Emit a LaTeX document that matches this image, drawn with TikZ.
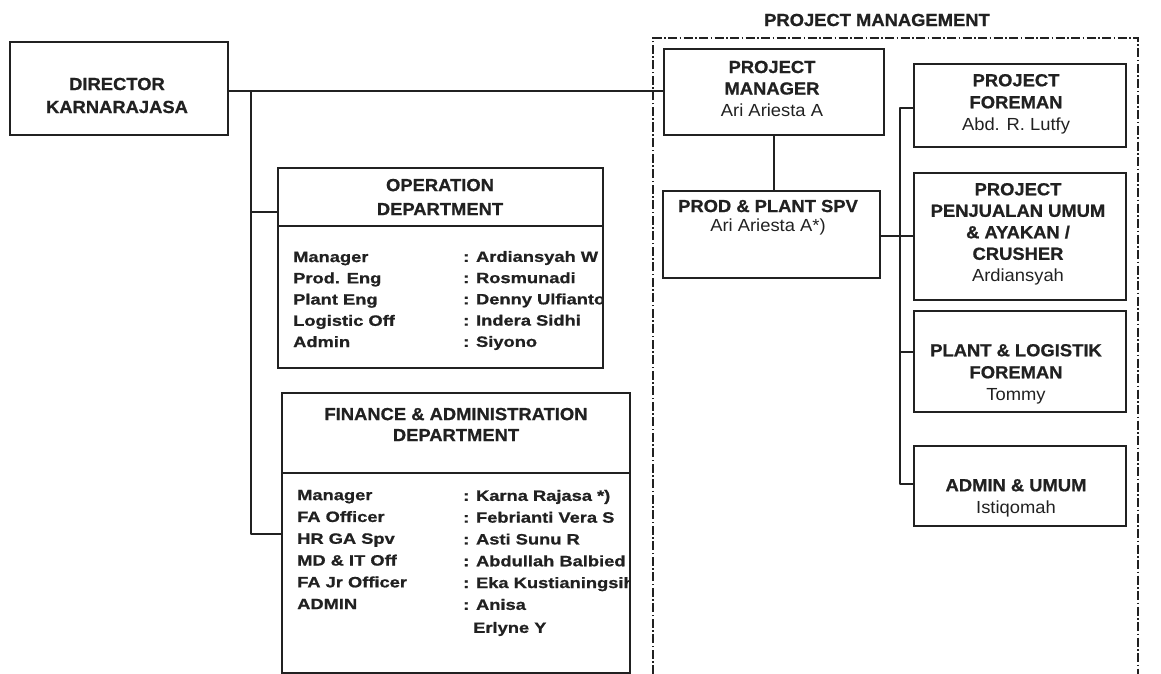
\documentclass[tikz,border=0pt]{standalone}
\usepackage{fontspec}
\setmainfont{Liberation Sans}
\newfontfamily\hdfont{Liberation Sans}[FakeStretch=1.05, BoldFeatures={FakeBold=0.9}]
\newfontfamily\bdfont{Liberation Sans}[FakeStretch=1.22, BoldFeatures={FakeBold=0.9}]
\definecolor{ink}{gray}{0.13}
\begin{document}
\begin{tikzpicture}[x=1pt,y=-1pt,
  box/.style={draw=ink, line width=1.9pt, rectangle, inner sep=0pt},
  conn/.style={draw=ink, line width=1.9pt, line join=round},
  frameline/.style={draw=ink, line width=1.4pt, dash pattern=on 9pt off 2.5pt on 1.5pt off 2.5pt},
  hdr/.style={text=ink, inner sep=0pt, align=center, font=\hdfont\bfseries\fontsize{17.5}{#1}\selectfont},
  hdr/.default=21.5,
  body/.style={text=ink, inner sep=0pt, align=left, anchor=west, font=\bdfont\bfseries\fontsize{15}{#1}\selectfont},
  body/.default=21.5]
\useasboundingbox (0,0) rectangle (1161,674);

% boxes
\node[box, minimum width=218, minimum height=93] (dir) at (119,88.5) {};
\node[box, minimum width=325, minimum height=200] (op) at (440.5,268) {};
\node[box, minimum width=348, minimum height=280] (fin) at (456,533) {};
\node[box, minimum width=220, minimum height=86] (pm) at (774,92) {};
\node[box, minimum width=217, minimum height=87] (prod) at (771.5,234.5) {};
\node[box, minimum width=212, minimum height=83] (fm) at (1020,105.5) {};
\node[box, minimum width=212, minimum height=127] (pj) at (1020,236.5) {};
\node[box, minimum width=212, minimum height=101] (pl) at (1020,361.5) {};
\node[box, minimum width=212, minimum height=80] (ad) at (1020,486) {};

% dividers
\draw[conn] ([yshift=-59pt]op.north west) -- ([yshift=-59pt]op.north east);
\draw[conn] ([yshift=-81pt]fin.north west) -- ([yshift=-81pt]fin.north east);

% project management frame
\draw[frameline] (653,674) -- (653,38) -- (1138,38) -- (1138,674);
\node[hdr] (pmtitle) at (877,20) {PROJECT MANAGEMENT};

% titles
\node[hdr=23] (dirT) at (117,95.5) {DIRECTOR\\KARNARAJASA};
\node[hdr=24] (opH) at (440,197) {OPERATION\\DEPARTMENT};
\node[hdr=21] (finH) at (456,424.5) {FINANCE \& ADMINISTRATION\\DEPARTMENT};
\node[hdr] (pmT) at (772,88.5) {PROJECT\\MANAGER\\{\mdseries Ari Ariesta A}};
\node[hdr=19.5] (prodT) at (768,217.5) {PROD \& PLANT SPV\\{\mdseries Ari Ariesta A*)}};
\node[hdr=22] (fmT) at (1016,104) {PROJECT\\FOREMAN\\{\mdseries Abd. R. Lutfy}};
\node[hdr] (pjT) at (1018,234) {PROJECT\\PENJUALAN UMUM\\\& AYAKAN /\\CRUSHER\\{\mdseries Ardiansyah}};
\node[hdr=22] (plT) at (1016,374) {PLANT \& LOGISTIK\\FOREMAN\\{\mdseries Tommy}};
\node[hdr=22] (adT) at (1016,498) {ADMIN \& UMUM\\{\mdseries Istiqomah}};

% operation department list
\begin{scope}
\clip (op.north west) rectangle (op.south east);
\node[body=21.25] (opL) at (293,299.5) {Manager\\Prod. Eng\\Plant Eng\\Logistic Off\\Admin};
\node[body=21.25] (opR) at (463,300.5) {: Ardiansyah W\\: Rosmunadi\\: Denny Ulfianto\\: Indera Sidhi\\: Siyono};
\end{scope}

% finance department list
\begin{scope}
\clip (fin.north west) rectangle (fin.south east);
\node[body=21.8] (finL) at (297,549.5) {Manager\\FA Officer\\HR GA Spv\\MD \& IT Off\\FA Jr Officer\\ADMIN};
\node[body=21.8] (finR) at (463,550) {: Karna Rajasa *)\\: Febrianti Vera S\\: Asti Sunu R\\: Abdullah Balbied\\: Eka Kustianingsih\\: Anisa};
\node[body] (finE) at (473,629) {Erlyne Y};
\end{scope}

% connectors, left side
\coordinate (yMain) at (0,91);
\coordinate (jl) at (251,91);
\coordinate (yOp) at (0,212);
\coordinate (yFin) at (0,534);
\draw[conn] (dir.east |- yMain) -- (pm.west |- yMain);
\draw[conn] (jl) -- (jl |- yFin) -- (fin.west |- yFin);
\draw[conn] (jl |- yOp) -- (op.west |- yOp);

% connectors, project side
\draw[conn] (pm.south) -- (pm.south |- prod.north);
\coordinate (yProd) at (0,236);
\coordinate (bt) at (900,108);
\coordinate (bb) at (900,484);
\coordinate (yPl) at (0,352);
\draw[conn] (prod.east |- yProd) -- (pj.west |- yProd);
\draw[conn] (fm.west |- bt) -- (bt) -- (bb) -- (ad.west |- bb);
\draw[conn] (bt |- yPl) -- (pl.west |- yPl);
\end{tikzpicture}
\end{document}
